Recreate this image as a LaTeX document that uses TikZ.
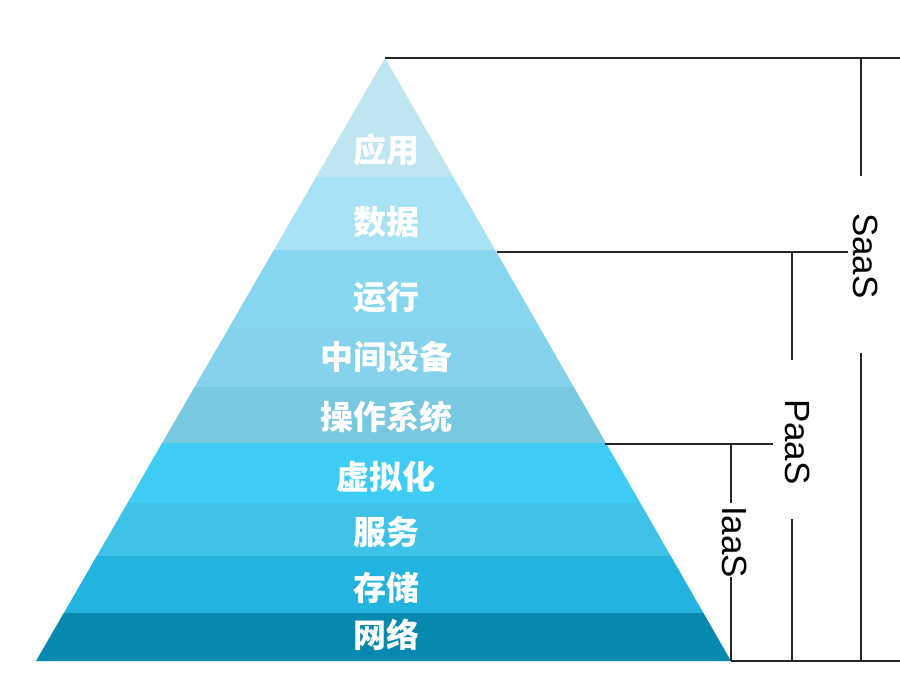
\documentclass[tikz,border=0pt]{standalone}
\usepackage{fontspec}
\setmainfont{Liberation Sans}
\newfontfamily\cjk{Noto Sans CJK SC}
\definecolor{yingyong}{HTML}{BFE5F1}
\definecolor{shuju}{HTML}{A8E2F5}
\definecolor{yunxing}{HTML}{87D6EF}
\definecolor{zhongjian}{HTML}{84D2EC}
\definecolor{caozuo}{HTML}{78C8E0}
\definecolor{xuni}{HTML}{3FCCF4}
\definecolor{fuwu}{HTML}{3EC2E8}
\definecolor{cunchu}{HTML}{23B3DF}
\definecolor{wangluo}{HTML}{0788AE}
\begin{document}
\begin{tikzpicture}[x=1pt, y=-1pt,
  layer/.style={text=white, font=\cjk\bfseries\fontsize{33}{33}\selectfont},
  tag/.style={rotate=-90, font=\fontsize{35}{35}\selectfont, inner sep=0pt},
  bar/.style={line width=1.3pt, black!85}]
	\useasboundingbox (0,0) rectangle (900,696);
	\coordinate (apex) at (385,58);
	\coordinate (bl) at (36,661);
	\coordinate (br) at (731,661);
	% bands
	\begin{scope}
		\clip (apex) -- (br) -- (bl) -- cycle;
		\foreach \top/\bot/\col in {50/177/yingyong, 177/250/shuju, 250/328/yunxing, 328/387/zhongjian, 387/443/caozuo, 443/503/xuni, 503/556/fuwu, 556/613/cunchu, 613/670/wangluo}
			\fill[\col] (0,\top) rectangle (900,\bot);
	\end{scope}
	\node[layer] (app) at (386,150) {应用};
	\node[layer] (data) at (386,222) {数据};
	\node[layer] (run) at (386,297) {运行};
	\node[layer] (mid) at (386,357) {中间设备};
	\node[layer] (os) at (386,417) {操作系统};
	\node[layer] (virt) at (386,477) {虚拟化};
	\node[layer] (serv) at (386,532) {服务};
	\node[layer] (store) at (386,588) {存储};
	\node[layer] (net) at (386,635) {网络};
	% brackets
	\node[tag] (saas) at (866,256) {SaaS};
	\node[tag] (paas) at (798,442) {PaaS};
	\node[tag] (iaas) at (735,542) {IaaS};
	\coordinate (topend) at (900,58);
	\coordinate (botend) at (900,661);
	\coordinate (pedge) at (497,252);
	\coordinate (pend) at (848,252);
	\coordinate (iedge) at (605,444);
	\coordinate (iend) at (773,444);
	\coordinate (s1) at (861,58);
	\coordinate (s2) at (861,176);
	\coordinate (s3) at (861,353);
	\coordinate (s4) at (861,661);
	\coordinate (p1) at (792,252);
	\coordinate (p2) at (792,360);
	\coordinate (p3) at (792,519);
	\coordinate (p4) at (792,661);
	\coordinate (i1) at (731,444);
	\coordinate (i2) at (731,503);
	\coordinate (i3) at (731,577);
	\draw[bar] (apex) -- (topend);
	\draw[bar] (br) -- (botend);
	\draw[bar] (pedge) -- (pend);
	\draw[bar] (iedge) -- (iend);
	\draw[bar] (s1) -- (s2);
	\draw[bar] (s3) -- (s4);
	\draw[bar] (p1) -- (p2);
	\draw[bar] (p3) -- (p4);
	\draw[bar] (i1) -- (i2);
	\draw[bar] (i3) -- (br);
\end{tikzpicture}
\end{document}
